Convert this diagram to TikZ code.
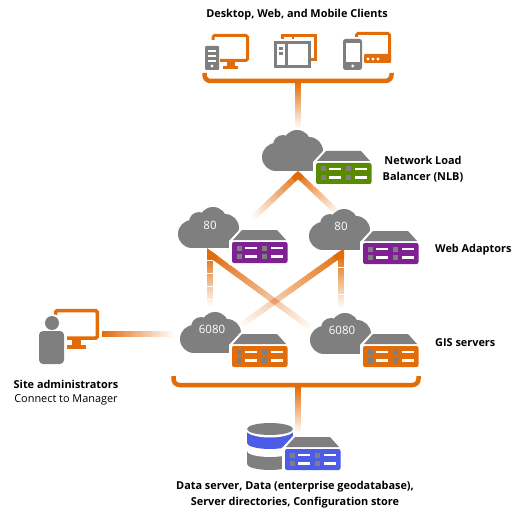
\documentclass[tikz,border=0pt]{standalone}
\usepackage{fontspec}
\setmainfont{Open Sans}
\usepackage{xcolor}
\usetikzlibrary{calc}
\definecolor{vorange}{HTML}{E36C0A}
\definecolor{vgray}{HTML}{7F7F7F}
\definecolor{vgreen}{HTML}{5A8A00}
\definecolor{vpurple}{HTML}{7F2093}
\definecolor{vblue}{HTML}{4C5CE6}
\tikzset{
  vbar/.style={line width=4.5pt,draw=vorange,rounded corners=6pt},
  vstub/.style={line width=6pt,draw=vorange,line join=miter},
  vframe/.style={line width=3pt,draw=vorange},
  vtitle/.style={font=\fontsize{10.9}{16.5}\selectfont\bfseries,align=center,inner sep=0pt},
  vnote/.style={font=\fontsize{10.9}{16.5}\selectfont,align=center,inner sep=0pt},
  vport/.style={font=\fontsize{11.5}{12}\selectfont,text=white,inner sep=0pt},
  cloudpic/.pic={
    \fill[vgray] (14,27) circle[radius=14pt];
    \fill[vgray] (21,15) circle[radius=10pt];
    \fill[vgray] (35,14) circle[radius=14pt];
    \fill[vgray] (47,21) circle[radius=14pt];
    \fill[vgray] (14,26) rectangle (55,41);
  },
  serverpic/.pic={
    % white halo cuts the cloud behind the server
    \fill[white] (-3,-1) -- (-3,23) -- (58,23) -- (58,-1) -- (46,-14) -- (9,-14) -- cycle;
    \fill[vgray] (1,-2) -- (54,-2) -- (45,-12) -- (10,-12) -- cycle;
    \path[pic actions,rounded corners=2pt] (0,0) rectangle (55.5,21);
    \foreach \px in {0,25.5} {
      \foreach \py in {3.5,12} {
        \fill[vgray] (4.5+\px,\py) rectangle ++(5,5);
        \fill[white] (13+\px,\py+1.3) rectangle ++(12,2.4);
      }
    }
  }
}
\newcommand{\fadelink}[3][]{
  \foreach \i in {0,...,39} {
    \pgfmathsetmacro{\pct}{100-\i*2.5}
    \draw[vstub,draw=vorange!\pct!white,#1] ($(#2)!\i/40!(#3)$) -- ($(#2)!\i/40+1/40!(#3)$);
  }
}
\begin{document}
\begin{tikzpicture}[x=1pt,y=-1pt]
  \useasboundingbox (0,0) rectangle (523,519);
  % anchors of the connectors
  \coordinate (topbar) at (298,82);
  \coordinate (nlbin) at (298,128);
  \coordinate (nlbout) at (298,175);
  \coordinate (web1in) at (253,218);
  \coordinate (web2in) at (338,213);
  \coordinate (web1out) at (210,254);
  \coordinate (web2out) at (341,254);
  \coordinate (gis1in) at (210,306);
  \coordinate (gis2in) at (341,308);
  \coordinate (gis1cross) at (240,326);
  \coordinate (gis2cross) at (311,328);
  \coordinate (adminout) at (102,334);
  \coordinate (gis1side) at (174,334);
  \coordinate (midbar) at (298,387);
  \coordinate (dbin) at (298,433);
  % connectors
  \fadelink{topbar}{nlbin}
  \fadelink{nlbout}{web1in}
  \fadelink{nlbout}{web2in}
  \fadelink{web1out}{gis1in}
  \fadelink{web2out}{gis2in}
  \fadelink{web2out}{gis1cross}
  \fadelink[blend mode=multiply]{web1out}{gis2cross}
  \fadelink{adminout}{gis1side}
  \fadelink{midbar}{dbin}
  \draw[vstub] ($(nlbout)!.1!(web1in)$) -- (nlbout) -- ($(nlbout)!.1!(web2in)$);
  \draw[vstub] ($(web1out)!.1!(gis1in)$) -- (web1out) -- ($(web1out)!.06!(gis2cross)$);
  \draw[vstub] ($(web2out)!.1!(gis2in)$) -- (web2out) -- ($(web2out)!.06!(gis1cross)$);
  % brackets
  \draw[vbar] (204.5,73) -- (204.5,81) -- (391.5,81) -- (391.5,73);
  \draw[vbar] (173.5,376) -- (173.5,385) -- (418.5,385) -- (418.5,376);
  % clients
  \node[vtitle] (clients) at (297,15) {Desktop, Web, and Mobile Clients};
  \draw[vframe,rounded corners=1.5pt] (213,40) -- (213,35.5) -- (247.5,35.5) -- (247.5,60.5) -- (220,60.5);
  \fill[vorange] (227,62) rectangle (235,66);
  \fill[vorange] (223,66) rectangle (238,69);
  \fill[vgray,rounded corners=1pt] (205,46) rectangle (219,70);
  \foreach \sy in {50,55,60} {\fill[white] (208,\sy) rectangle (216,\sy+2);}
  \fill[white] (212,66) circle[radius=1.6pt];
  \draw[vframe] (282,39) -- (282,36) -- (315.5,36) -- (315.5,60) -- (311,60);
  \draw[line width=1.5pt,draw=vorange] (293,35) -- (293,39);
  \fill[vgray] (274,41) rectangle (311,68);
  \fill[white] (277,44) rectangle (285,65);
  \fill[white] (288,44) rectangle (308,65);
  \fill[vgray] (279,47) rectangle (283,50);
  \fill[vgray] (279,52) rectangle (283,55);
  \draw[vframe,rounded corners=1.5pt] (356.5,38) -- (356.5,33.5) -- (389.5,33.5) -- (389.5,60);
  \fill[vorange,rounded corners=1pt] (364,54) rectangle (391,63);
  \foreach \dx in {368,373,378} {\fill[white] (\dx,59) circle[radius=1.7pt];}
  \fill[white] (341,37) rectangle (364,72);
  \fill[vgray,rounded corners=2.5pt] (343,39) rectangle (362,70);
  \fill[white] (345.5,43) rectangle (360,62);
  \fill[white] (352.7,66) circle[radius=1.7pt];
  % load balancer
  \pic at (262,130) {cloudpic};
  \pic[fill=vgreen] at (316,163) {serverpic};
  \node[vtitle] (nlb) at (423,169) {Network Load\\Balancer (NLB)};
  % web adaptors
  \pic at (178,207) {cloudpic};
  \pic[fill=vpurple] at (232,242) {serverpic};
  \node[vport] (port1) at (210,225) {80};
  \pic at (309,209) {cloudpic};
  \pic[fill=vpurple] at (363,243) {serverpic};
  \node[vport] (port2) at (341,226) {80};
  \node[vtitle,anchor=west] (web) at (435,250) {Web Adaptors};
  % gis servers
  \pic at (180,312) {cloudpic};
  \pic[fill=vorange] at (232,346) {serverpic};
  \node[vport] (port3) at (212,329) {6080};
  \pic at (310,313) {cloudpic};
  \pic[fill=vorange] at (363,346) {serverpic};
  \node[vport] (port4) at (342,330) {6080};
  \node[vtitle,anchor=west] (gis) at (435,343) {GIS servers};
  % site administrators
  \draw[vframe,line width=3.5pt,rounded corners=1.5pt] (55.5,315) -- (55.5,310.7) -- (97.3,310.7) -- (97.3,338) -- (67,338);
  \fill[vorange] (72,340) rectangle (81,345);
  \fill[vorange] (67,345) rectangle (86,349);
  \fill[white] (52,323) circle[radius=9pt];
  \fill[vgray] (52,323) circle[radius=7pt];
  \fill[vgray,rounded corners=4pt] (39,331) rectangle (64,364);
  \node[vtitle] (admin) at (66,384) {Site administrators};
  \node[vnote] (manager) at (66,400) {Connect to Manager};
  % data server
  \fill[vgray] (270,464) ellipse[x radius=23pt,y radius=6pt];
  \fill[vgray] (247,445) rectangle (293,464);
  \fill[white] (247,444) rectangle (293,451);
  \fill[white] (270,451) ellipse[x radius=23pt,y radius=6pt];
  \fill[vblue] (247,430) rectangle (293,443);
  \fill[vblue] (270,443) ellipse[x radius=23pt,y radius=6pt];
  \fill[white] (270,430) ellipse[x radius=24pt,y radius=7.5pt];
  \fill[vgray] (270,429) ellipse[x radius=23pt,y radius=6pt];
  \pic[fill=vblue] at (285,449) {serverpic};
  \node[vtitle] (data) at (295,494.5) {Data server, Data (enterprise geodatabase),\\Server directories, Configuration store};
\end{tikzpicture}
\end{document}
